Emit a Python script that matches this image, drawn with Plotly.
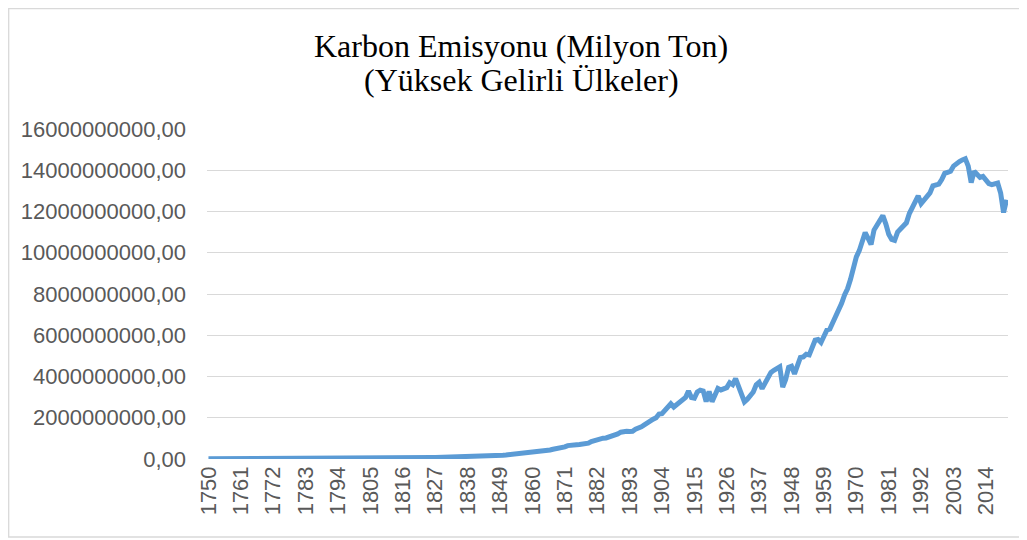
import plotly.graph_objects as go

years = list(range(1750, 2022))

# Emissions in billion tonnes, converted to tonnes below
emissions_bt = [
    0.009, 0.009, 0.009, 0.009, 0.010, 0.010, 0.010, 0.010, 0.010, 0.010,
    0.011, 0.011, 0.011, 0.011, 0.012, 0.012, 0.012, 0.012, 0.013, 0.013,
    0.013, 0.014, 0.014, 0.014, 0.015, 0.015, 0.015, 0.016, 0.016, 0.017,
    0.017, 0.018, 0.018, 0.019, 0.019, 0.020, 0.020, 0.021, 0.022, 0.022,
    0.023, 0.024, 0.025, 0.025, 0.026, 0.027, 0.028, 0.029, 0.029, 0.030,
    0.031, 0.032, 0.033, 0.034, 0.035, 0.036, 0.037, 0.038, 0.039, 0.040,
    0.041, 0.042, 0.043, 0.044, 0.045, 0.047, 0.048, 0.050, 0.051, 0.053,
    0.055, 0.057, 0.059, 0.061, 0.063, 0.066, 0.068, 0.071, 0.073, 0.076,
    0.079, 0.082, 0.085, 0.089, 0.092, 0.096, 0.100, 0.104, 0.108, 0.113,
    0.118, 0.123, 0.128, 0.134, 0.140, 0.147, 0.154, 0.160, 0.165, 0.172,
    0.182, 0.195, 0.208, 0.222, 0.240, 0.250, 0.268, 0.275, 0.280, 0.298,
    0.320, 0.335, 0.345, 0.375, 0.400, 0.420, 0.440, 0.475, 0.490, 0.520,
    0.540, 0.590, 0.650, 0.680, 0.660, 0.690, 0.700, 0.710, 0.720, 0.770,
    0.850, 0.900, 0.950, 1.000, 1.010, 1.020, 1.060, 1.120, 1.200, 1.220,
    1.300, 1.340, 1.340, 1.330, 1.340, 1.440, 1.480, 1.560, 1.650, 1.760,
    1.850, 1.930, 2.000, 2.180, 2.200, 2.350, 2.460, 2.680, 2.520, 2.650,
    2.800, 2.850, 2.980, 3.300, 2.980, 2.950, 3.250, 3.340, 3.300, 2.780,
    3.280, 2.780, 3.050, 3.420, 3.350, 3.440, 3.460, 3.700, 3.610, 3.900,
    3.520, 3.150, 2.770, 2.900, 3.080, 3.250, 3.600, 3.720, 3.410, 3.650,
    4.000, 4.200, 4.300, 4.420, 4.470, 3.490, 3.850, 4.440, 4.500, 4.130,
    4.560, 4.920, 4.950, 5.080, 5.050, 5.500, 5.760, 5.790, 5.650, 5.950,
    6.250, 6.300, 6.600, 6.900, 7.250, 7.550, 7.950, 8.250, 8.700, 9.300,
    9.800, 10.100, 10.550, 10.980, 10.700, 10.400, 11.100, 11.300, 11.550, 11.800,
    11.400, 10.900, 10.650, 10.600, 11.000, 11.150, 11.250, 11.450, 11.900, 12.150,
    12.400, 12.760, 12.380, 12.550, 12.700, 12.900, 13.250, 13.300, 13.330, 13.550,
    13.850, 13.900, 13.950, 14.200, 14.350, 14.420, 14.500, 14.560, 14.200, 13.400,
    13.950, 13.750, 13.650, 13.700, 13.500, 13.350, 13.300, 13.320, 13.380, 12.900,
    11.950, 12.570,
]
emissions = [v * 1e9 for v in emissions_bt]

x_tick_years = list(range(1750, 2015, 11))
y_tick_values = [0, 2e9, 4e9, 6e9, 8e9, 1e10, 1.2e10, 1.4e10, 1.6e10]

title_line1 = "Karbon Emisyonu (Milyon Ton)"
title_line2 = "(Yüksek Gelirli Ülkeler)"

# page is offset by the 8px body margin
OFF = 8
W, H = 1027 - OFF, 540 - OFF
L, R, T, B = 207 - OFF, 19, 129 - OFF, 81
pw, ph = W - L - R, H - T - B

def px(x):  # page pixel -> paper
    return (x - OFF - L) / pw

def py(y):
    return (H - B - (y - OFF)) / ph

fig = go.Figure()
fig.add_trace(go.Scatter(
    x=years, y=emissions, mode="lines",
    line=dict(color="#5B9BD5", width=5),
    hoverinfo="x+y", showlegend=False,
))

tick_font = dict(family="Liberation Sans, Arial, sans-serif", size=22, color="#595959")
title_font = dict(family="Liberation Serif, Times New Roman, serif", size=32, color="black")

fig.update_layout(
    width=W, height=H,
    margin=dict(l=L, r=R, t=T, b=B),
    paper_bgcolor="white", plot_bgcolor="white",
    separators=", ",
    xaxis=dict(
        range=[1749.5, 2021.5],
        tickmode="array", tickvals=x_tick_years,
        ticktext=[str(y) for y in x_tick_years],
        tickangle=-90, tickfont=tick_font,
        showgrid=False, zeroline=False,
        showline=False, ticks="", ticklabelstandoff=2,
    ),
    yaxis=dict(
        range=[0, 1.6e10],
        tickmode="array", tickvals=y_tick_values,
        tickformat=".2f", tickfont=tick_font,
        showgrid=True, gridcolor="#D9D9D9", gridwidth=1.3,
        zeroline=False, showline=False, ticks="",
        ticklabelstandoff=20,
    ),
    annotations=[
        dict(text=title_line1, xref="paper", yref="paper",
             x=px(521), y=py(46), xanchor="center", yanchor="middle",
             showarrow=False, font=title_font),
        dict(text=title_line2, xref="paper", yref="paper",
             x=px(521), y=py(80), xanchor="center", yanchor="middle",
             showarrow=False, font=title_font),
    ],
    shapes=[
        dict(type="rect", xref="paper", yref="paper",
             x0=px(8.7), x1=px(1025), y0=py(537), y1=py(8.7),
             line=dict(color="#D9D9D9", width=1.3), layer="below"),
    ],
)

fig.write_html("out.html")
